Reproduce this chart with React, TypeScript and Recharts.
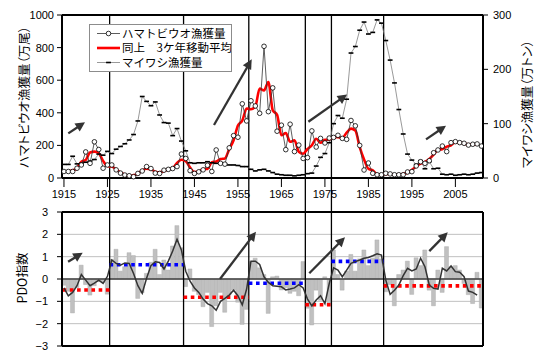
import React from "react";
import { ComposedChart, Line, Bar, XAxis, YAxis, ReferenceLine, CartesianGrid } from "recharts";

// ---------- data ----------
const years = [
  1915, 1916, 1917, 1918, 1919, 1920, 1921, 1922, 1923, 1924,
  1925, 1926, 1927, 1928, 1929, 1930, 1931, 1932, 1933, 1934,
  1935, 1936, 1937, 1938, 1939, 1940, 1941, 1942, 1943, 1944,
  1945, 1946, 1947, 1948, 1949, 1950, 1951, 1952, 1953, 1954,
  1955, 1956, 1957, 1958, 1959, 1960, 1961, 1962, 1963, 1964,
  1965, 1966, 1967, 1968, 1969, 1970, 1971, 1972, 1973, 1974,
  1975, 1976, 1977, 1978, 1979, 1980, 1981, 1982, 1983, 1984,
  1985, 1986, 1987, 1988, 1989, 1990, 1991, 1992, 1993, 1994,
  1995, 1996, 1997, 1998, 1999, 2000, 2001, 2002, 2003, 2004,
  2005, 2006, 2007, 2008, 2009, 2010, 2011,
];

// ハマトビウオ漁獲量 (万尾)
const hamaCatch = [
  40, 40, 40, 60, 80, 160, 90, 222, 175, 60,
  80, 80, 50, 30, 18, 14, 8, 28, 43, 70,
  58, 30, 28, 48, 53, 58, 70, 147, 120, 45,
  28, 38, 50, 78, 40, 172, 90, 85, 185, 260,
  250, 455, 350, 474, 442, 397, 808, 407, 553, 287,
  324, 174, 330, 162, 202, 120, 125, 289, 190, 243,
  215, 245, 249, 262, 243, 237, 353, 320, 200, 49,
  92, 29, 20, 20, 29, 25, 20, 20, 20, 37,
  39, 74, 100, 90, 106, 155, 172, 196, 162, 217,
  223, 217, 213, 202, 207, 209, 196,
];

// 同上 3ケ年移動平均
const hamaMA3 = [
  null, 40, 47, 60, 100, 110, 157, 162, 152, 105,
  73, 70, 53, 33, 21, 13, 17, 26, 47, 57,
  53, 39, 35, 43, 53, 60, 92, 112, 104, 64,
  37, 39, 55, 56, 97, 101, 116, 120, 177, 232,
  322, 352, 426, 422, 438, 549, 537, 589, 416, 388,
  262, 276, 222, 231, 161, 149, 178, 201, 241, 216,
  234, 236, 252, 251, 247, 278, 303, 291, 190, 114,
  57, 47, 23, 23, 25, 25, 22, 20, 26, 32,
  50, 71, 88, 99, 117, 144, 174, 177, 192, 201,
  219, 218, 211, 207, 206, 204, null,
];

// マイワシ漁獲量 (万トン)
const sardineCatch = [
  25, 25, 40, 26, 27, 29, 31, 34, 44, 42,
  49, 45, 53, 58, 63, 70, 80, 105, 150, 141,
  133, 140, 116, 102, 101, 78, 91, 68, 50, 28,
  27, 28, 28, 30, 28, 27, 27, 26, 24, 24,
  23, 21, 21, 16, 13, 15, 16, 13, 10, 7,
  6, 5, 5, 4, 5, 6, 8, 9, 22, 38,
  45, 65, 100, 115, 110, 145, 230, 242, 272, 287,
  265, 268, 291, 285, 253, 217, 175, 126, 81, 44,
  33, 25, 32, 17, 30, 17, 18, 7, 6, 7,
  5, 6, 7, 6, 7, 9, 10,
];

// PDO指数 (annual)
const pdoAnnual = [
  -0.28, -0.55, -1.52, -0.38, 0.62, -0.25, -0.72, -0.3, -0.12, -0.15,
  -0.68, 0.88, 1.33, 0.35, 0.55, 1.18, 1.05, -0.87, -0.62, 0.25,
  0.75, 1.33, 0.2, 0.85, 0.4, 1.48, 2.39, 1.4, -0.34, 0.45,
  -0.55, -0.7, -1.24, -0.6, -2.13, -1.2, -0.6, -1.49, -0.72, -0.49,
  -1.04, -2.03, -1.36, 0.78, 0.93, 0.5, 0.2, -1.54, 0.1, 0.13,
  -0.49, -0.39, -0.64, -0.55, -0.75, 0.78, -1.31, -2.06, -0.5, -0.95,
  0.1, -1.2, 1.3, 0.2, -0.5, 0.35, 1.1, 0.35, 0.9, 1.3,
  0.6, 0.93, 1.75, 0.9, -0.57, -0.25, -1.2, 0.2, 0.4, 0.8,
  -0.69, 0.95, 0.6, 1.3, -0.5, -1.2, 0.4, -0.6, 1.45, 0.55,
  0.6, 0.4, -0.2, -0.7, -1.1, 0.3, -1.3,
];

// PDO smoothed line
const pdoSmooth = [
  -0.4, -0.75, -0.6, -0.3, 0.2, -0.05, -0.3, -0.18, -0.05, -0.2,
  0.12, 0.85, 0.7, 0.62, 0.72, 0.7, 0.25, -0.3, -0.64, 0.03,
  0.6, 0.77, 0.74, 0.45, 0.8, 1.25, 1.78, 1.3, 0.35, -0.1,
  -0.4, -0.6, -0.9, -1.1, -1.2, -1.4, -1.0, -0.87, -0.72, -0.5,
  -0.75, -1.16, -0.45, 0.8, 0.8, 0.65, 0.1, -0.15, -0.3, -0.32,
  -0.35, -0.49, -0.45, -0.4, -0.25, -0.4, -0.9, -1.21, -0.94, -0.75,
  -1.1, -0.2, 0.5, 0.4, 0.1, 0.4, 0.7, 0.78, 0.85, 0.93,
  0.96, 1.04, 1.13, 1.07, -0.05, -0.69, -0.5, -0.27, 0.15, 0.48,
  0.36, 0.45, 0.93, 0.55, -0.27, -0.42, -0.45, 0.48, 0.36, 0.58,
  0.33, 0.3, 0.1, -0.54, -0.6, -0.72, null,
];

const yearTicks = [1915, 1925, 1935, 1945, 1955, 1965, 1975, 1985, 1995, 2005];
const leftTicks = [0, 200, 400, 600, 800, 1000];
const rightTicks = [0, 100, 200, 300];
const pdoTicks = [-3, -2, -1, 0, 1, 2, 3];

// regime shifts
const regimeBoundaries = [1925.5, 1942.5, 1957.5, 1970.5, 1976.5, 1988.5];
const regimeStarts = [1914.7, 1925.5, 1942.5, 1957.5, 1970.5, 1976.5, 1988.5];
const regimeEnds = [1925.5, 1942.5, 1957.5, 1970.5, 1976.5, 1988.5, 2011.3];
const regimeMeans = [-0.49, 0.64, -0.82, -0.19, -1.15, 0.79, -0.31];
const regimeColors = ["#ff0000", "#0000ff", "#ff0000", "#0000ff", "#ff0000", "#0000ff", "#ff0000"];

// annotation arrows (data coordinates)
const topArrowFrom = [[1916.0, 274], [1949.5, 325], [1971.2, 345], [1998.25, 237]];
const topArrowTo = [[1919.84, 342], [1958.17, 728], [1980.1, 512], [2002.85, 321]];
const pdoArrowFrom = [[1915.95, 0.77], [1950.88, 0.0], [1971.41, 0.26], [1999.0, 1.25]];
const pdoArrowTo = [[1919.31, 1.18], [1959.16, 2.12], [1979.62, 1.87], [2003.24, 2.09]];

const X_MIN = 1914.55;
const X_MAX = 2011.35;

const topData = years.map((year, i) => ({
  year,
  hama: hamaCatch[i],
  hamaMA: hamaMA3[i],
  sardine: sardineCatch[i],
}));
const pdoData = years.map((year, i) => ({ year, pdo: pdoAnnual[i], smooth: pdoSmooth[i] }));

// ---------- styles ----------
const NUM_FONT = "'Liberation Sans', Arial, sans-serif";
const JP_FONT = "'Noto Sans CJK JP', 'Noto Sans', sans-serif";
const tickStyle = { fontSize: 11, fill: "#000", fontFamily: NUM_FONT };

const ArrowShape = (p: any) => {
  const x1 = Number(p.x1), y1 = Number(p.y1), x2 = Number(p.x2), y2 = Number(p.y2);
  const dx = x2 - x1, dy = y2 - y1;
  const len = Math.hypot(dx, dy) || 1;
  const ux = dx / len, uy = dy / len;
  const L = 9.5, W = 4.8;
  const bx = x2 - ux * L, by = y2 - uy * L;
  const nx = -uy, ny = ux;
  return (
    <g>
      <line x1={x1} y1={y1} x2={bx + ux} y2={by + uy} stroke="#333" strokeWidth={2.3} />
      <polygon
        points={`${x2},${y2} ${bx + nx * W},${by + ny * W} ${bx - nx * W},${by - ny * W}`}
        fill="#333"
      />
    </g>
  );
};

const SardineDot = (props: any) => {
  const { cx, cy, index } = props;
  if (cx == null || cy == null) return <g key={`sd-${index}`} />;
  return <rect key={`sd-${index}`} x={cx - 2.4} y={cy - 0.8} width={4.8} height={1.6} fill="#000" />;
};

const fmtPdo = (v: number) => (v < 0 ? `−${Math.abs(v)}` : `${v}`);

export default function App() {
  return (
    <div
      style={{
        position: "absolute",
        left: 0,
        top: 0,
        width: 540,
        height: 364,
        background: "#fff",
        overflow: "hidden",
      }}
    >
      {/* ---------- top chart ---------- */}
      <div style={{ position: "absolute", left: 0, top: 0 }}>
        <ComposedChart width={540} height={205} data={topData} margin={{ top: 15, right: 0, bottom: 7, left: 0 }}>
          <XAxis
            dataKey="year"
            type="number"
            domain={[X_MIN, X_MAX]}
            allowDataOverflow
            ticks={yearTicks}
            interval={0}
            height={20}
            tickSize={9}
            tickMargin={3}
            axisLine={{ stroke: "#000", strokeWidth: 2 }}
            tickLine={{ stroke: "#000", strokeWidth: 1 }}
            tick={tickStyle}
          />
          <YAxis
            yAxisId="left"
            domain={[0, 1000]}
            ticks={leftTicks}
            interval={0}
            width={62}
            tickSize={5}
            tickMargin={3}
            axisLine={{ stroke: "#000", strokeWidth: 2 }}
            tickLine={{ stroke: "#000", strokeWidth: 1 }}
            tick={tickStyle}
          />
          <YAxis
            yAxisId="right"
            orientation="right"
            domain={[0, 300]}
            ticks={rightTicks}
            interval={0}
            width={57}
            tickSize={5}
            tickMargin={5}
            axisLine={{ stroke: "#000", strokeWidth: 2 }}
            tickLine={{ stroke: "#000", strokeWidth: 1 }}
            tick={tickStyle}
          />
          <ReferenceLine yAxisId="left" y={1000} stroke="#000" strokeWidth={2} ifOverflow="visible" />
          {regimeBoundaries.map((b) => (
            <ReferenceLine
              key={`tb-${b}`}
              yAxisId="left"
              segment={[{ x: b, y: 1000 }, { x: b, y: -400 }]}
              stroke="#000"
              strokeWidth={1.3}
              ifOverflow="visible"
            />
          ))}
          <Line
            yAxisId="right"
            dataKey="sardine"
            type="linear"
            stroke="#7f7f7f"
            strokeWidth={0.8}
            fill="none"
            dot={SardineDot}
            activeDot={false}
            isAnimationActive={false}
          />
          <Line
            yAxisId="left"
            dataKey="hamaMA"
            type="monotone"
            stroke="#ff0000"
            strokeWidth={2.6}
            fill="none"
            dot={false}
            activeDot={false}
            isAnimationActive={false}
          />
          <Line
            yAxisId="left"
            dataKey="hama"
            type="linear"
            stroke="#333"
            strokeWidth={0.8}
            fill="none"
            dot={{ r: 2.3, fill: "#fff", stroke: "#000", strokeWidth: 0.8 }}
            activeDot={false}
            isAnimationActive={false}
          />
          {topArrowFrom.map((f, i) => (
            <ReferenceLine
              key={`ta-${i}`}
              yAxisId="left"
              segment={[{ x: f[0], y: f[1] }, { x: topArrowTo[i][0], y: topArrowTo[i][1] }]}
              ifOverflow="visible"
              shape={ArrowShape}
            />
          ))}
        </ComposedChart>
      </div>

      {/* ---------- bottom chart ---------- */}
      <div style={{ position: "absolute", left: 0, top: 205 }}>
        <ComposedChart width={540} height={159} data={pdoData} margin={{ top: 7, right: 57, bottom: 18, left: 0 }}>
          <CartesianGrid vertical={false} stroke="#c0c0c0" strokeWidth={1} />
          <XAxis dataKey="year" type="number" domain={[X_MIN, X_MAX]} allowDataOverflow hide />
          <YAxis
            domain={[-3, 3]}
            ticks={pdoTicks}
            interval={0}
            width={62}
            tickSize={5}
            tickMargin={9}
            tickFormatter={fmtPdo}
            axisLine={{ stroke: "#000", strokeWidth: 2 }}
            tickLine={{ stroke: "#000", strokeWidth: 1 }}
            tick={tickStyle}
          />
          <Bar
            dataKey="pdo"
            barSize={4}
            fill="#c0c0c0"
            stroke="#a6a6a6"
            strokeWidth={0.4}
            isAnimationActive={false}
          />
          <ReferenceLine y={0} stroke="#404040" strokeWidth={1.3} ifOverflow="visible" />
          <ReferenceLine y={3} stroke="#000" strokeWidth={2} ifOverflow="visible" />
          <ReferenceLine y={-3} stroke="#000" strokeWidth={2} ifOverflow="visible" />
          <ReferenceLine
            segment={[{ x: X_MAX, y: 3 }, { x: X_MAX, y: -3 }]}
            stroke="#000"
            strokeWidth={2}
            ifOverflow="visible"
          />
          {regimeBoundaries.map((b) => (
            <ReferenceLine
              key={`bb-${b}`}
              segment={[{ x: b, y: 4 }, { x: b, y: -3 }]}
              stroke="#000"
              strokeWidth={1.3}
              ifOverflow="visible"
            />
          ))}
          {regimeStarts.map((s, i) => (
            <ReferenceLine
              key={`rm-${i}`}
              segment={[{ x: s, y: regimeMeans[i] }, { x: regimeEnds[i], y: regimeMeans[i] }]}
              stroke={regimeColors[i]}
              strokeWidth={3.6}
              strokeDasharray="3.6 3.6"
              ifOverflow="visible"
            />
          ))}
          <Line
            dataKey="smooth"
            type="linear"
            stroke="#333"
            strokeWidth={1.5}
            fill="none"
            dot={false}
            activeDot={false}
            isAnimationActive={false}
          />
          {pdoArrowFrom.map((f, i) => (
            <ReferenceLine
              key={`pa-${i}`}
              segment={[{ x: f[0], y: f[1] }, { x: pdoArrowTo[i][0], y: pdoArrowTo[i][1] }]}
              ifOverflow="visible"
              shape={ArrowShape}
            />
          ))}
        </ComposedChart>
      </div>

      {/* ---------- legend ---------- */}
      <div
        style={{
          position: "absolute",
          left: 89,
          top: 24,
          width: 143,
          height: 48,
          boxSizing: "border-box",
          border: "1px solid #8c8c8c",
          background: "#fff",
        }}
      >
        <svg width={141} height={46} style={{ position: "absolute", left: 0, top: 0 }}>
          <line x1={7} y1={8.5} x2={30} y2={8.5} stroke="#333" strokeWidth={0.8} />
          <circle cx={18.5} cy={8.5} r={2.3} fill="#fff" stroke="#000" strokeWidth={0.8} />
          <text x={32} y={12.5} fontSize={11.5} fontFamily={JP_FONT} fill="#000">ハマトビウオ漁獲量</text>
          <line x1={7} y1={23} x2={30} y2={23} stroke="#ff0000" strokeWidth={2.6} />
          <text x={32} y={27} fontSize={11.5} fontFamily={JP_FONT} fill="#000">同上　3ケ年移動平均</text>
          <line x1={7} y1={37.5} x2={30} y2={37.5} stroke="#7f7f7f" strokeWidth={0.8} />
          <rect x={16.1} y={36.7} width={4.8} height={1.6} fill="#000" />
          <text x={32} y={41.5} fontSize={11.5} fontFamily={JP_FONT} fill="#000">マイワシ漁獲量</text>
        </svg>
      </div>

      {/* ---------- axis titles ---------- */}
      <div
        style={{
          position: "absolute",
          left: 24,
          top: 97,
          transform: "translate(-50%, -50%) rotate(-90deg)",
          whiteSpace: "nowrap",
          fontFamily: JP_FONT,
          fontSize: 12.5,
          fontFeatureSettings: '"palt"',
          color: "#000",
          lineHeight: 1,
        }}
      >
        ハマトビウオ漁獲量（万尾）
      </div>
      <div
        style={{
          position: "absolute",
          left: 527,
          top: 104,
          transform: "translate(-50%, -50%) rotate(-90deg)",
          whiteSpace: "nowrap",
          fontFamily: JP_FONT,
          fontSize: 12.5,
          fontFeatureSettings: '"palt"',
          color: "#000",
          lineHeight: 1,
        }}
      >
        マイワシ漁獲量（万トン）
      </div>
      <div
        style={{
          position: "absolute",
          left: 22,
          top: 278,
          transform: "translate(-50%, -50%) rotate(-90deg)",
          whiteSpace: "nowrap",
          fontFamily: JP_FONT,
          fontSize: 12.5,
          color: "#000",
          lineHeight: 1,
        }}
      >
        PDO指数
      </div>
    </div>
  );
}
